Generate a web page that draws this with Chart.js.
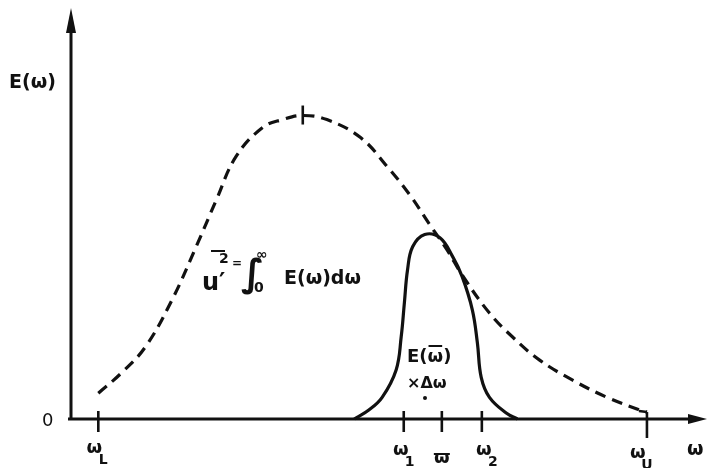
<!DOCTYPE html>
<html>
<head>
<meta charset="utf-8">
<script src="https://cdn.jsdelivr.net/npm/chart.js@4"></script>
<style>
  html, body { margin: 0; padding: 0; background: #fff; }
  #wrap { width: 708px; height: 468px; }
</style>
</head>
<body>
<div id="wrap"><canvas id="spectrum"></canvas></div>
<script>
// energy spectrum E(w), dashed
const specOmega = [0.43, 0.79, 1.17, 1.59, 1.97, 2.29, 2.60, 3.02, 3.33, 3.65, 4.03, 4.56, 4.98, 5.33, 5.65, 5.92, 6.16, 6.59, 6.95, 7.38, 7.90, 8.44, 8.96, 9.07];
const specE     = [0.63, 1.12, 1.76, 2.91, 4.21, 5.36, 6.42, 7.13, 7.32, 7.42, 7.32, 6.88, 6.17, 5.49, 4.75, 4.14, 3.52, 2.59, 2.01, 1.44, 0.95, 0.53, 0.22, 0.17];

// narrow band around w-bar, solid
const bandOmega = [4.46, 4.69, 4.90, 5.12, 5.20, 5.25, 5.30, 5.38, 5.57, 5.81, 6.01, 6.16, 6.32, 6.40, 6.46, 6.59, 6.86, 7.03];
const bandE     = [0.00, 0.22, 0.53, 1.20, 2.01, 2.84, 3.65, 4.21, 4.51, 4.43, 3.97, 3.48, 2.67, 1.86, 1.02, 0.53, 0.14, 0.00];

// marked frequencies on the w axis
const tickOmega = [0.43, 5.24, 5.84, 6.47, 9.07];
const tickMain  = ['ω', 'ω', 'ω', 'ω', 'ω'];
const tickSub   = ['L', '1', '', '2', 'U'];
const peakOmega = 3.65;

const ink = '#111';
const face = '"DejaVu Sans", "Noto Sans", sans-serif';

const toPoints = (xs, ys) => xs.map((v, i) => ({ x: v, y: ys[i] }));

const sketch = {
  id: 'sketch',
  afterDraw(chart) {
    const ctx = chart.ctx;
    const { x, y } = chart.scales;
    const ox = x.getPixelForValue(0);
    const oy = y.getPixelForValue(0);
    const top = y.getPixelForValue(10);
    const right = x.getPixelForValue(10);
    ctx.save();
    ctx.strokeStyle = ink;
    ctx.fillStyle = ink;
    ctx.lineWidth = 3;

    // axes
    ctx.beginPath();
    ctx.moveTo(ox, oy + 1);
    ctx.lineTo(ox, top + 20);
    ctx.moveTo(ox - 3, oy);
    ctx.lineTo(right - 14, oy);
    ctx.stroke();
    ctx.beginPath();
    ctx.moveTo(ox, top - 2);
    ctx.lineTo(ox - 5, top + 23);
    ctx.lineTo(ox + 5, top + 23);
    ctx.closePath();
    ctx.fill();
    ctx.beginPath();
    ctx.moveTo(right + 1, oy);
    ctx.lineTo(right - 18, oy - 5);
    ctx.lineTo(right - 18, oy + 5);
    ctx.closePath();
    ctx.fill();

    // ticks and their labels
    ctx.lineWidth = 2.6;
    tickOmega.forEach((w, i) => {
      const px = x.getPixelForValue(w);
      const last = i === tickOmega.length - 1;
      ctx.beginPath();
      ctx.moveTo(px, last ? y.getPixelForValue(specE[specE.length - 1]) : oy - 8);
      ctx.lineTo(px, oy + (last ? 19 : 13));
      ctx.stroke();
    });
    // closing the dashed curve onto the w_U tick
    const ux = x.getPixelForValue(specOmega[specOmega.length - 1]);
    const uy = y.getPixelForValue(specE[specE.length - 1]);
    ctx.beginPath();
    ctx.moveTo(ux - 8, uy - 1);
    ctx.lineTo(ux, uy);
    ctx.stroke();

    // peak marker
    const pk = x.getPixelForValue(peakOmega);
    const pv = y.getPixelForValue(specE[specOmega.indexOf(peakOmega)]);
    ctx.beginPath();
    ctx.moveTo(pk, pv - 10);
    ctx.lineTo(pk, pv + 9);
    ctx.stroke();

    const offs = [[-4, 28], [-3, 30], [0, 0], [2, 30], [-9, 33]];
    tickOmega.forEach((w, i) => {
      const px = x.getPixelForValue(w);
      const [dx, dy] = offs[i];
      ctx.font = 'bold 18px ' + face;
      ctx.textAlign = 'center';
      ctx.textBaseline = 'alphabetic';
      if (tickSub[i] === '') {
        ctx.fillText(tickMain[i], px, oy + 44);
        ctx.lineWidth = 2;
        ctx.beginPath();
        ctx.moveTo(px - 8, oy + 35);
        ctx.lineTo(px + 8, oy + 35);
        ctx.stroke();
        return;
      }
      ctx.fillText(tickMain[i], px + dx, oy + dy + 6);
      ctx.font = 'bold 14px ' + face;
      ctx.fillText(tickSub[i], px + dx + 9, oy + dy + 17);
    });

    // axis captions
    ctx.textAlign = 'left';
    ctx.font = 'bold 19px ' + face;
    ctx.fillText('E(ω)', 9, 88);
    ctx.fillText('ω', right - 19, oy + 36);
    ctx.font = '18px ' + face;
    ctx.fillText('0', ox - 29, oy + 7);

    // u'^2 = integral of E over all w
    ctx.font = 'bold 24px ' + face;
    ctx.fillText('u′', 202, 290);
    ctx.lineWidth = 2;
    ctx.beginPath();
    ctx.moveTo(211, 251);
    ctx.lineTo(225, 251);
    ctx.stroke();
    ctx.font = 'bold 14px ' + face;
    ctx.fillText('2', 219, 263);
    ctx.font = 'bold 12px ' + face;
    ctx.fillText('=', 232, 267);
    ctx.font = 'bold 38px ' + face;
    ctx.fillText('∫', 241, 286);
    ctx.font = 'bold 14px ' + face;
    ctx.fillText('0', 254, 292);
    ctx.fillText('∞', 256, 259);
    ctx.font = 'bold 19px ' + face;
    ctx.fillText('E(ω)dω', 284, 284);

    // band label E(w-bar) x dw
    ctx.font = 'bold 18px ' + face;
    let tx = 407;
    ctx.fillText('E(', tx, 362);
    tx += ctx.measureText('E(').width;
    const ww = ctx.measureText('ω').width;
    ctx.fillText('ω', tx, 362);
    ctx.beginPath();
    ctx.moveTo(tx + 1, 346);
    ctx.lineTo(tx + ww - 1, 346);
    ctx.stroke();
    ctx.fillText(')', tx + ww, 362);
    ctx.font = 'bold 16px ' + face;
    ctx.fillText('×Δω', 407, 388);
    ctx.beginPath();
    ctx.arc(425, 398, 2, 0, Math.PI * 2);
    ctx.fill();

    ctx.restore();
  }
};

new Chart(document.getElementById('spectrum'), {
  type: 'line',
  data: {
    datasets: [{
      data: toPoints(specOmega, specE),
      borderColor: ink,
      borderWidth: 3.2,
      borderDash: [11, 7],
      pointRadius: 0,
      tension: 0.4,
      clip: false,
    }, {
      data: toPoints(bandOmega, bandE),
      borderColor: ink,
      borderWidth: 3.2,
      pointRadius: 0,
      tension: 0.4,
      clip: false,
    }],
  },
  options: {
    responsive: true,
    maintainAspectRatio: false,
    animation: false,
    layout: { padding: { left: 71, right: 2, top: 10, bottom: 49 } },
    scales: {
      x: { type: 'linear', min: 0, max: 10, display: false },
      y: { min: 0, max: 10, display: false },
    },
    plugins: { legend: { display: false }, tooltip: { enabled: false } },
  },
  plugins: [sketch],
});
</script>
</body>
</html>
